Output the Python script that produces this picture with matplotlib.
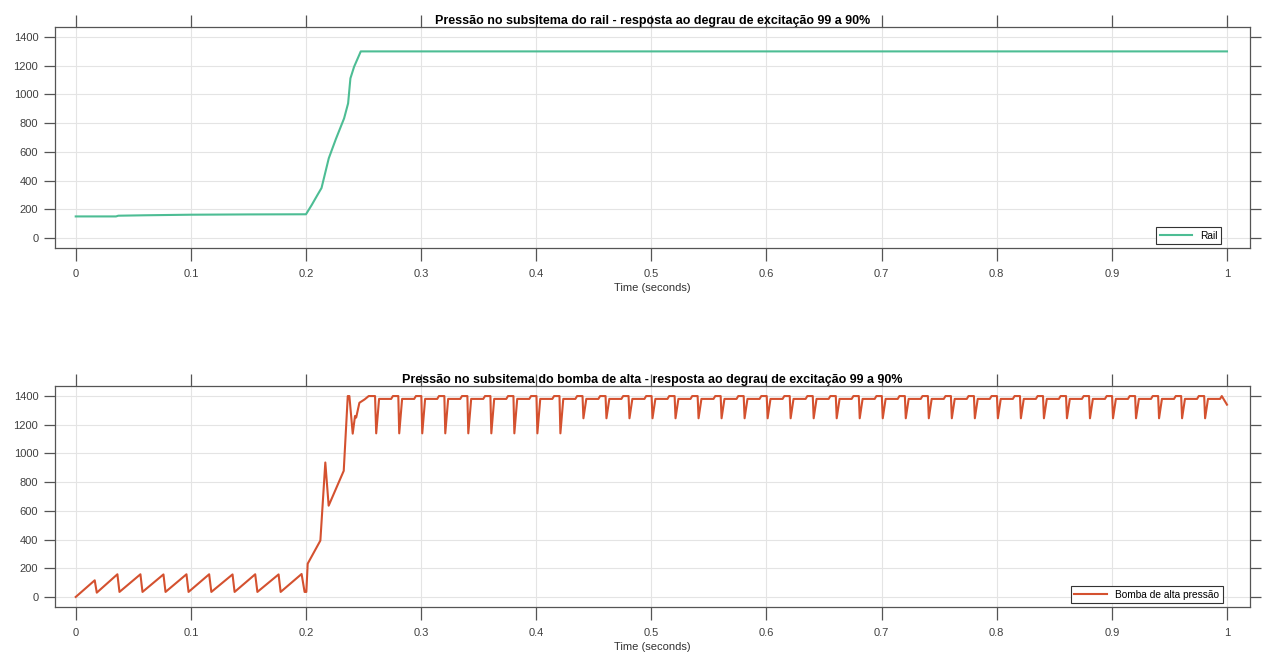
import numpy as np
import matplotlib
matplotlib.use('Agg')
import matplotlib.pyplot as plt

plt.rcParams['font.family'] = ['Liberation Sans', 'DejaVu Sans']

# rail pressure
rail_t = [0, 0.035, 0.037, 0.06, 0.1, 0.15, 0.2, 0.205, 0.21, 0.2135, 0.2198,
          0.226, 0.2331, 0.2366, 0.2386, 0.2418, 0.2476, 1.0]
rail_p = [150, 150, 155, 158, 162, 164, 165, 230, 300, 348, 555,
          690, 833, 938, 1112, 1193, 1300, 1300]

# pump: sawtooth before the step
saw_peak_t = [0.0165, 0.0362, 0.0562, 0.0762, 0.0962, 0.1159, 0.1362, 0.1559, 0.1762, 0.1962]
saw_peak_p = [116, 158, 158, 157, 158, 158, 157, 158, 157, 160]
saw_low_t = [0.0183, 0.038, 0.058, 0.078, 0.098, 0.1178, 0.138, 0.1578, 0.178, 0.1988]
saw_low_p = [30, 35, 35, 35, 35, 35, 35, 35, 35, 35]

# pump: the step itself
step_t = [0.2003, 0.2015, 0.2125, 0.2168, 0.2197, 0.2328, 0.2363, 0.2377,
          0.2406, 0.2426, 0.2436, 0.2464, 0.251, 0.2545, 0.2600]
step_p = [35, 232, 393, 937, 636, 879, 1400, 1400,
          1138, 1261, 1250, 1353, 1377, 1400, 1400]

# pump: periodic dips after settling
dip_t = [0.261, 0.281, 0.301, 0.321, 0.341, 0.361, 0.381, 0.401, 0.421,
         0.441, 0.461, 0.481, 0.501, 0.521, 0.541, 0.561, 0.581, 0.601,
         0.621, 0.641, 0.661, 0.681, 0.701, 0.721, 0.741, 0.761, 0.781,
         0.801, 0.821, 0.841, 0.861, 0.881, 0.901, 0.921, 0.941, 0.961, 0.981]
dip_p = [1140, 1140, 1140, 1140, 1140, 1140, 1140, 1140, 1140,
         1245, 1245, 1245, 1245, 1245, 1245, 1245, 1245, 1245,
         1245, 1245, 1245, 1245, 1245, 1245, 1245, 1245, 1245,
         1245, 1245, 1245, 1245, 1245, 1245, 1245, 1245, 1245, 1245]
# shape of one cycle after a dip (offset in s, pressure)
cycle_dt = [0.0025, 0.013, 0.0145, 0.0192]
cycle_p = [1380, 1380, 1400, 1400]
end_t, end_p = 1.0, 1340

pump_t = [0.0]
pump_p = [0.0]
for a, b, c, d in zip(saw_peak_t, saw_peak_p, saw_low_t, saw_low_p):
    pump_t += [a, c]
    pump_p += [b, d]
pump_t += step_t
pump_p += step_p
for d, m in zip(dip_t, dip_p):
    pump_t.append(d)
    pump_p.append(m)
    for dt, v in zip(cycle_dt, cycle_p):
        if d + dt < end_t:
            pump_t.append(d + dt)
            pump_p.append(v)
pump_t.append(end_t)
pump_p.append(end_p)

xticks = np.arange(0, 1.01, 0.1)
xtick_labels = ['0', '0.1', '0.2', '0.3', '0.4', '0.5', '0.6', '0.7', '0.8', '0.9', '1']
yticks = [0, 200, 400, 600, 800, 1000, 1200, 1400]

fig = plt.figure(figsize=(12.71, 6.57), dpi=100)
ax1 = fig.add_axes([55/1271, 1 - 248/657, 1195/1271, 221/657])
ax2 = fig.add_axes([55/1271, 1 - 607/657, 1195/1271, 221/657])

ax1.plot(rail_t, rail_p, color='#4dbd94', lw=1.5, label='Rail')
ax2.plot(pump_t, pump_p, color='#d4512f', lw=1.5, label='Bomba de alta pressão')

titles = ['Pressão no subsitema do rail - resposta ao degrau de excitação 99 a 90%',
          'Pressão no subsitema do bomba de alta - resposta ao degrau de excitação 99 a 90%']

for ax, title, leg_x in zip([ax1, ax2], titles, [0.976, 0.977]):
    ax.set_xlim(-0.018, 1.02)
    ax.set_ylim(-70, 1470)
    ax.set_xticks(xticks)
    ax.set_xticklabels(xtick_labels)
    ax.set_yticks(yticks)
    ax.grid(True, color='#e4e4e4', lw=0.8)
    ax.set_axisbelow(True)
    ax.tick_params(axis='x', direction='out', top=True, length=9, width=0.9,
                   color='#555555', labelsize=8, labelcolor='#404040', pad=6)
    ax.tick_params(axis='y', direction='out', right=True, length=8, width=0.9,
                   color='#555555', labelsize=8, labelcolor='#404040', pad=4)
    for s in ax.spines.values():
        s.set_color('#555555')
        s.set_linewidth(0.9)
    ax.set_title(title, fontsize=9, fontweight='bold', pad=2)
    ax.set_xlabel('Time (seconds)', fontsize=8, color='#333333', labelpad=3)
    leg = ax.legend(loc='lower right', bbox_to_anchor=(leg_x, 0.017), borderaxespad=0,
                    fontsize=7.3, fancybox=False, edgecolor='#333333', framealpha=1,
                    handlelength=3.2, borderpad=0.35)
    leg.get_frame().set_linewidth(0.8)

fig.savefig('out.png', dpi=100)
